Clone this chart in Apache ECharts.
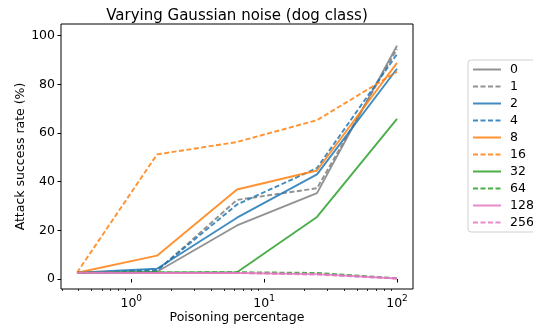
<!DOCTYPE html>
<html>
<head>
<meta charset="utf-8">
<script src="https://cdn.jsdelivr.net/npm/echarts@6/dist/echarts.min.js"></script>
<style>
  html, body { margin: 0; padding: 0; background: #fff; }
  #chart { width: 533px; height: 326px; }
</style>
</head>
<body>
<div id="chart"></div>
<script>
// 投毒比例（对数轴）
const poisonPct = [0.390625, 1.5625, 6.25, 25, 100]

// 各噪声等级的攻击成功率 (%)
const noiseLevels = ['0', '1', '2', '4', '8', '16', '32', '64', '128', '256']
const rate0 = [2.6, 3.0, 22.0, 35.3, 95.9]
const rate1 = [2.6, 3.3, 32.5, 37.3, 94.5]
const rate2 = [2.6, 4.2, 25.2, 43.0, 86.4]
const rate4 = [2.6, 3.6, 30.6, 45.6, 92.4]
const rate8 = [2.6, 9.6, 36.8, 44.6, 88.8]
const rate16 = [2.6, 51.2, 56.3, 65.3, 85.2]
const rate32 = [2.6, 2.7, 2.8, 25.5, 65.8]
const rate64 = [2.6, 2.7, 2.8, 2.5, 0.3]
const rate128 = [2.6, 2.5, 2.5, 2.0, 0.2]
const rate256 = [2.6, 2.5, 2.5, 1.8, 0.2]
const allRates = [rate0, rate1, rate2, rate4, rate8, rate16, rate32, rate64, rate128, rate256]

// 坐标轴刻度
const xMajorTicks = [1, 10, 100]
const xMinorTicks = [0.3, 0.4, 0.5, 0.6, 0.7, 0.8, 0.9, 2, 3, 4, 5, 6, 7, 8, 9, 20, 30, 40, 50, 60, 70, 80, 90]
const yTicks = [0, 20, 40, 60, 80, 100]

const COLORS = ['#7f7f7f', '#7f7f7f', '#1f77b4', '#1f77b4', '#ff7f0e', '#ff7f0e', '#2ca02c', '#2ca02c', '#e377c2', '#e377c2']
const FONT = 'DejaVu Sans'

const chart = echarts.init(document.getElementById('chart'))

const series = noiseLevels.map((name, i) => ({
  name,
  type: 'line',
  symbol: 'none',
  xAxisIndex: 0,
  data: poisonPct.map((x, j) => [x, allRates[i][j]]),
  lineStyle: {
    color: COLORS[i],
    width: 1.9,
    opacity: 0.85,
    type: i % 2 === 1 ? [5, 2.5] : 'solid'
  },
  itemStyle: { color: COLORS[i], opacity: 0.85 }
}))

const xMin = Math.pow(10, -0.5286)
const xMax = Math.pow(10, 2.1204)

chart.setOption({
  animation: false,
  title: {
    text: 'Varying Gaussian noise (dog class)',
    left: 232,
    top: 4,
    textAlign: 'center',
    textStyle: { fontFamily: FONT, fontSize: 15, fontWeight: 'normal', color: '#000' }
  },
  grid: {
    left: 61, right: 120, top: 24, bottom: 37,
    outerBoundsMode: 'none',
    containLabel: false,
    show: true, borderColor: '#000', borderWidth: 1
  },
  legend: {
    orient: 'vertical',
    left: 468,
    top: 60,
    data: noiseLevels,
    itemWidth: 28,
    itemHeight: 14,
    itemGap: 4,
    padding: [3, 24, 3, 4],
    borderColor: '#d0d0d0',
    borderWidth: 1,
    borderRadius: 3,
    backgroundColor: '#fff',
    itemStyle: { opacity: 0 },
    textStyle: { fontFamily: FONT, fontSize: 12.5, color: '#000', padding: [0, 0, 0, 4] }
  },
  xAxis: [
    {
      type: 'log',
      min: xMin,
      max: xMax,
      name: 'Poisoning percentage',
      nameLocation: 'middle',
      nameGap: 22,
      nameMoveOverlap: false,
      nameTextStyle: { fontFamily: FONT, fontSize: 12.5, color: '#000' },
      axisLine: { show: false },
      splitLine: { show: false },
      axisTick: { show: true, length: 3.5, customValues: xMajorTicks, lineStyle: { color: '#000' } },
      axisLabel: {
        customValues: xMajorTicks,
        margin: 5,
        formatter: v => '{b|10}{s|' + Math.round(Math.log10(v)) + '}',
        rich: {
          b: { fontFamily: FONT, fontSize: 12.5, color: '#000', verticalAlign: 'bottom', lineHeight: 16 },
          s: { fontFamily: FONT, fontSize: 9, color: '#000', verticalAlign: 'top', lineHeight: 16 }
        }
      }
    },
    {
      type: 'log',
      min: xMin,
      max: xMax,
      position: 'bottom',
      offset: 0,
      axisLine: { show: false },
      splitLine: { show: false },
      axisTick: { show: true, length: 2, customValues: xMinorTicks, lineStyle: { color: '#000', width: 0.8 } },
      axisLabel: { show: false }
    }
  ],
  yAxis: {
    type: 'value',
    min: -4.1,
    max: 104.8,
    name: 'Attack success rate (%)',
    nameLocation: 'middle',
    nameGap: 34,
    nameMoveOverlap: false,
    nameTextStyle: { fontFamily: FONT, fontSize: 12.5, color: '#000' },
    axisLine: { show: false },
    splitLine: { show: false },
    axisTick: { show: true, length: 3.5, customValues: yTicks, lineStyle: { color: '#000' } },
    axisLabel: {
      customValues: yTicks,
      margin: 6,
      fontFamily: FONT,
      fontSize: 12.5,
      color: '#000'
    }
  },
  series
})
</script>
</body>
</html>
